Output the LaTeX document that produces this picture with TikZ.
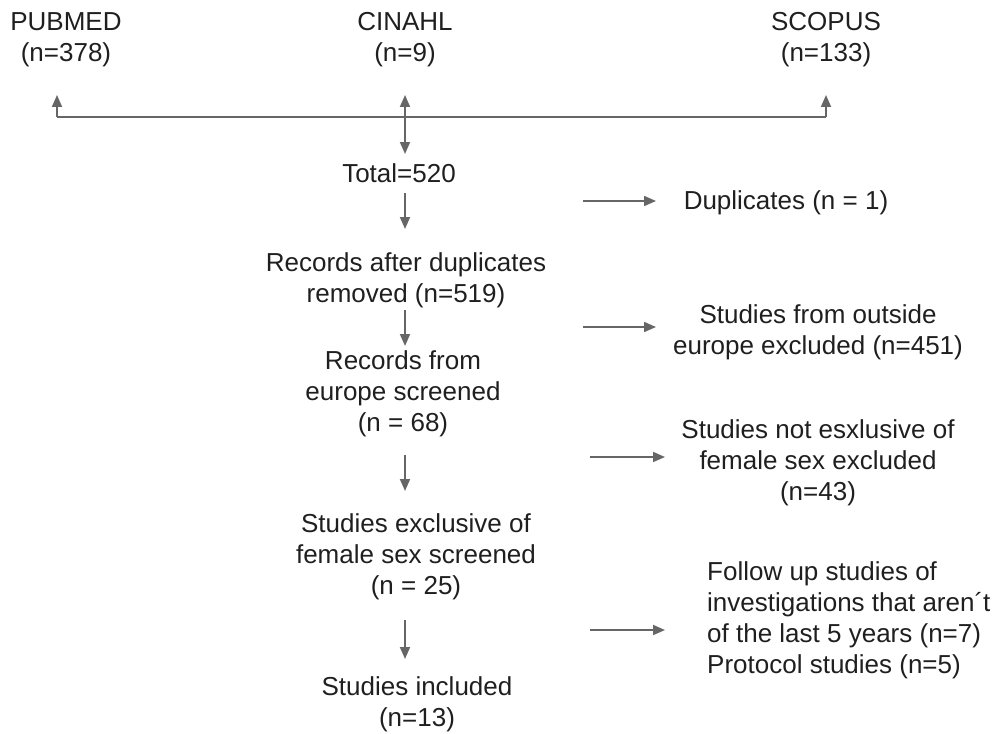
\documentclass[tikz,border=0pt]{standalone}
\usepackage{fontspec}
\setmainfont{Liberation Sans}
\usetikzlibrary{arrows.meta}
\definecolor{arrgray}{HTML}{666666}
\definecolor{txtcol}{HTML}{1F1F1F}
\begin{document}
\begin{tikzpicture}[x=1pt,y=-1pt,
  txt/.style={align=center, inner sep=0pt, text=txtcol, font=\fontsize{26}{31}\selectfont},
  ln/.style={draw=arrgray, line width=1.8pt},
  arr/.style={ln, -{Triangle[length=12pt,width=10pt]}}]
\useasboundingbox (0,0) rectangle (995,733);
% sources
\node[txt] (pub) at (66,40) {PUBMED\\(n=378)};
\node[txt] (cin) at (405,40) {CINAHL\\(n=9)};
\node[txt] (sco) at (826,40) {SCOPUS\\(n=133)};
% junction line
\coordinate (jl) at (57,117);
\coordinate (jm) at (405,117);
\coordinate (jr) at (826,117);
\coordinate (pubin) at (57,95);
\coordinate (cinin) at (405,95);
\coordinate (scoin) at (826,95);
\draw[ln] (jl) -- (jr);
\draw[arr] (jl) -- (pubin);
\draw[arr] (jm) -- (cinin);
\draw[arr] (jr) -- (scoin);
% main column
\node[txt] (tot) at (399,173) {Total=520};
\coordinate (totin) at (405,154);
\draw[arr] (jm) -- (totin);
\node[txt] (rad) at (406,280) {Records after duplicates\\removed (n=519)};
\node[txt] (rfe) at (403,394) {Records from\\europe screened\\(n = 68)};
\node[txt] (sef) at (416,557) {Studies exclusive of\\female sex screened\\(n = 25)};
\node[txt] (inc) at (417,704) {Studies included\\(n=13)};
\coordinate (a1s) at (405,193); \coordinate (a1e) at (405,229);
\coordinate (a2s) at (405,310); \coordinate (a2e) at (405,346);
\coordinate (a3s) at (405,455); \coordinate (a3e) at (405,491);
\coordinate (a4s) at (405,620); \coordinate (a4e) at (405,659);
\draw[arr] (a1s) -- (a1e);
\draw[arr] (a2s) -- (a2e);
\draw[arr] (a3s) -- (a3e);
\draw[arr] (a4s) -- (a4e);
% exclusions
\node[txt] (dup) at (786,203) {Duplicates (n = 1)};
\node[txt] (out) at (818,332) {Studies from outside\\europe excluded (n=451)};
\node[txt] (nfe) at (818,463) {Studies not esxlusive of\\female sex excluded\\(n=43)};
\node[txt, align=left, anchor=west] (fol) at (707,620) {Follow up studies of\\investigations that aren´t\\of the last 5 years (n=7)\\Protocol studies (n=5)};
\coordinate (b1s) at (583,201); \coordinate (b1e) at (656,201);
\coordinate (b2s) at (583,327); \coordinate (b2e) at (656,327);
\coordinate (b3s) at (590,457); \coordinate (b3e) at (665,457);
\coordinate (b4s) at (590,630); \coordinate (b4e) at (665,630);
\draw[arr] (b1s) -- (b1e);
\draw[arr] (b2s) -- (b2e);
\draw[arr] (b3s) -- (b3e);
\draw[arr] (b4s) -- (b4e);
\end{tikzpicture}
\end{document}
